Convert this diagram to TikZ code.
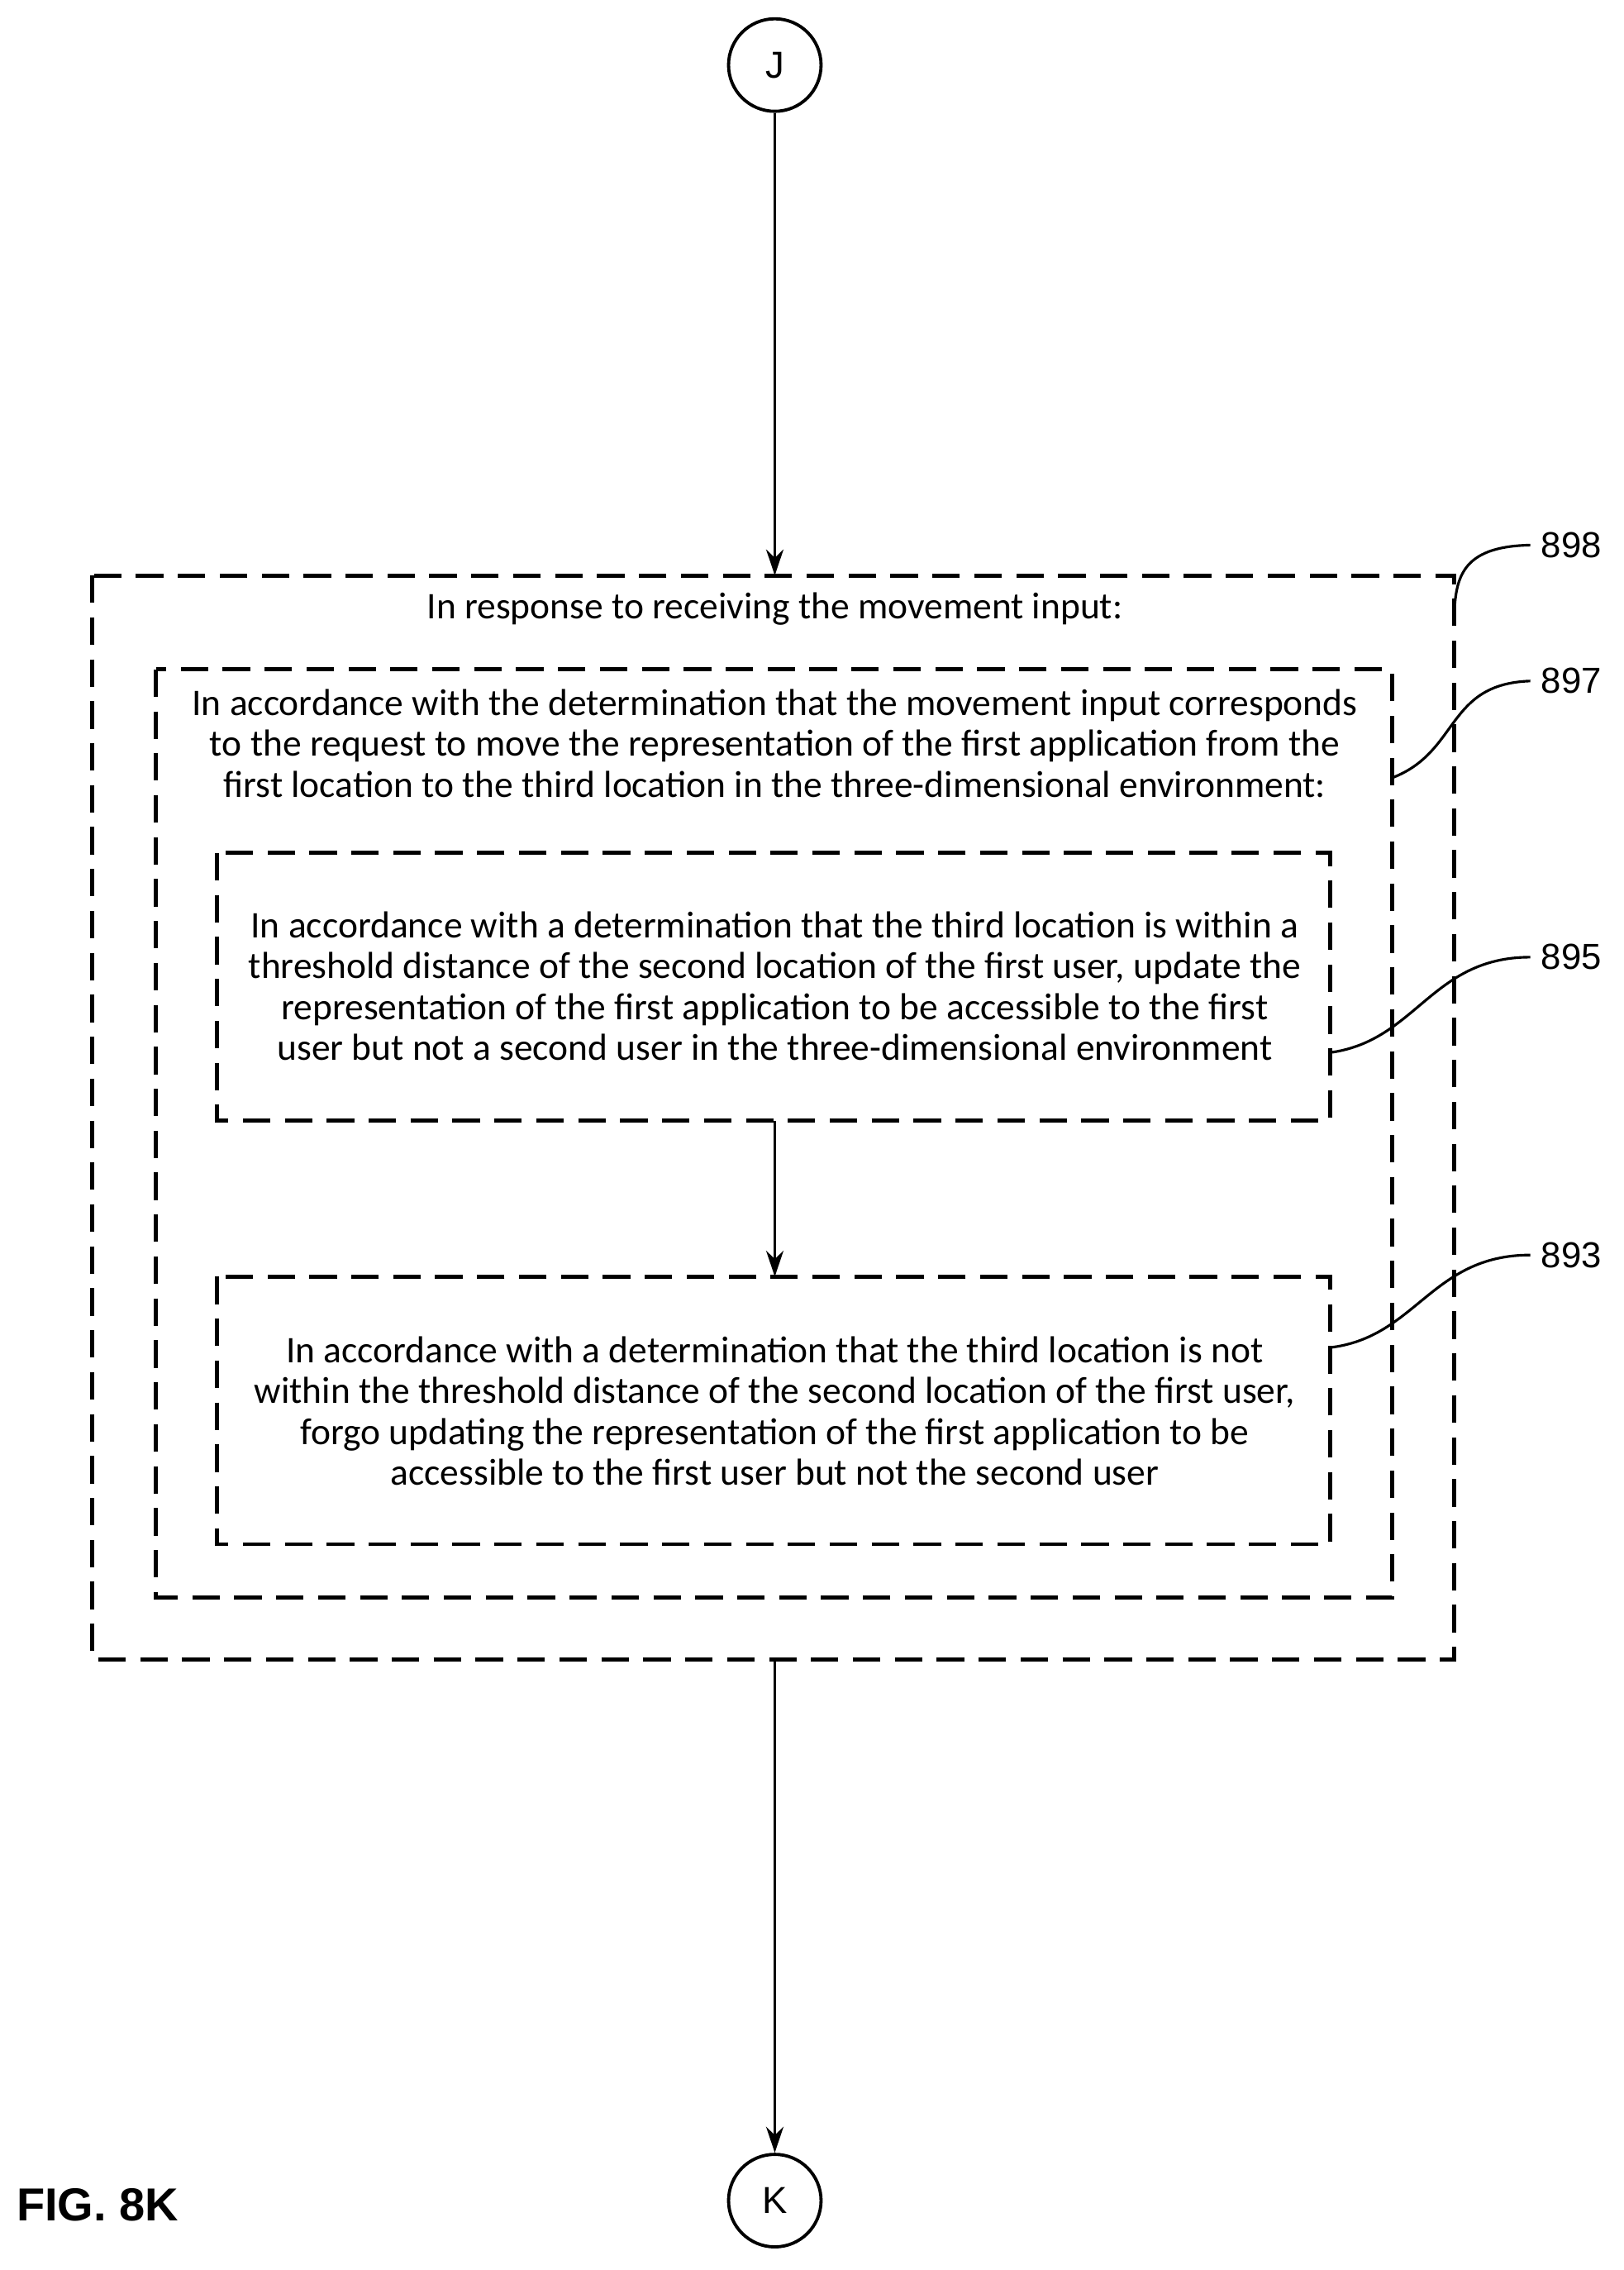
\documentclass[tikz,border=0pt]{standalone}
\usepackage{fontspec}
\setmainfont{Carlito}
\newfontfamily\figfont{Liberation Sans}
\usetikzlibrary{arrows.meta}
\begin{document}
\begin{tikzpicture}[x=1pt,y=-1pt,
  dbox/.style={draw,line width=2.8pt,dash pattern=on 19pt off 10pt},
  circ/.style={draw,circle,line width=2.2pt,minimum size=64pt,inner sep=0pt,font=\figfont\fontsize{26}{30}\selectfont},
  txt/.style={align=center,font=\fontsize{26}{28.3}\selectfont},
  lbl/.style={font=\figfont\fontsize{25}{28}\selectfont},
  arr/.style={line width=2pt,-{Stealth[length=18pt,width=12pt]}},
  lead/.style={line width=1.8pt}]
\useasboundingbox (0,0) rectangle (1123,1570);
\node[circ] (J) at (536,45) {J};
\node[circ] (K) at (536,1522) {K};
\draw[dbox] (64,398) rectangle (1006,1148);
\draw[dbox] (108,463) rectangle (963,1105);
\draw[dbox] (150,590) rectangle (920,775);
\draw[dbox] (150,883) rectangle (920,1068);
\coordinate (o1) at (536,398);
\coordinate (o2) at (536,1148);
\coordinate (b1) at (536,775);
\coordinate (b2) at (536,883);
\draw[arr] (J) -- (o1);
\draw[arr] (b1) -- (b2);
\draw[arr] (o2) -- (K);
\node[txt] (t898) at (536,421) {In response to receiving the movement input:};
\node[txt] (t897) at (536,514) {In accordance with the determination that the movement input corresponds\\to the request to move the representation of the first application from the\\first location to the third location in the three-dimensional environment:};
\node[txt] (t895) at (536,682) {In accordance with a determination that the third location is within a\\threshold distance of the second location of the first user, update the\\representation of the first application to be accessible to the first\\user but not a second user in the three-dimensional environment};
\node[txt] (t893) at (536,976) {In accordance with a determination that the third location is not\\within the threshold distance of the second location of the first user,\\forgo updating the representation of the first application to be\\accessible to the first user but not the second user};
\node[lbl] (l898) at (1087,377) {898};
\node[lbl] (l897) at (1087,471) {897};
\node[lbl] (l895) at (1087,662) {895};
\node[lbl] (l893) at (1087,868) {893};
\draw[lead] (1006,432) .. controls (1006,400) and (1010,378) .. ([xshift=-4pt]l898.west);
\draw[lead] (963,538) .. controls (1010,520) and (1000,473) .. ([xshift=-4pt]l897.west);
\draw[lead] (920,728) .. controls (980,720) and (990,662) .. ([xshift=-4pt]l895.west);
\draw[lead] (920,932) .. controls (980,925) and (990,868) .. ([xshift=-4pt]l893.west);
\node[font=\figfont\bfseries\fontsize{32}{36}\selectfont,anchor=west] (fig) at (8,1525) {FIG. 8K};
\end{tikzpicture}
\end{document}
